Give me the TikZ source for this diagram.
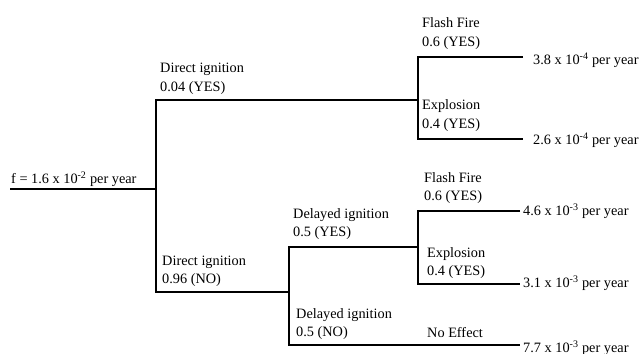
\documentclass[tikz,border=0pt]{standalone}
\usepackage{fontspec}
\setmainfont{LiberationSerif}[Extension=.ttf, UprightFont=*-Regular, BoldFont=*-Bold]
\begin{document}
\begin{tikzpicture}[x=1pt,y=-1pt,
  branch/.style={line width=1.4pt, line join=miter},
  lbl/.style={anchor=west, inner sep=0pt, align=left, font=\fontsize{14.3}{18.5}\selectfont},
  res/.style={anchor=west, inner sep=0pt, font=\fontsize{14.3}{18.5}\selectfont}]
\useasboundingbox (0,0) rectangle (639,353);
% junction coordinates
\coordinate (start) at (10,189);
\coordinate (A) at (156,189);
\coordinate (Atop) at (156,100);
\coordinate (Abot) at (156,292);
\coordinate (B) at (418,100);
\coordinate (Btop) at (418,57);
\coordinate (Bbot) at (418,139);
\coordinate (e1) at (523,57);
\coordinate (e2) at (523,139);
\coordinate (C) at (289,292);
\coordinate (Ctop) at (289,247);
\coordinate (Cbot) at (289,345);
\coordinate (D) at (418,247);
\coordinate (Dtop) at (418,211);
\coordinate (Dbot) at (418,284);
\coordinate (e3) at (520,211);
\coordinate (e4) at (520,284);
\coordinate (e5) at (520,345);
% branches
\draw[branch] (start) -- (A);
\draw[branch] (B) -- (Atop) -- (Abot) -- (C);
\draw[branch] (e1) -- (Btop) -- (Bbot) -- (e2);
\draw[branch] (D) -- (Ctop) -- (Cbot) -- (e5);
\draw[branch] (e3) -- (Dtop) -- (Dbot) -- (e4);
% labels
\node[lbl] (root) at (11,179) {f = 1.6 x 10\textsuperscript{-2} per year};
\node[lbl] (diy) at (160,79) {Direct ignition\\0.04 (YES)};
\node[lbl] (din) at (162,271.5) {Direct ignition\\0.96 (NO)};
\node[lbl] (ff1) at (422,33.5) {Flash Fire\\0.6 (YES)};
\node[lbl] (ex1) at (422,115.5) {Explosion\\0.4 (YES)};
\node[lbl] (dly) at (293,224) {Delayed ignition\\0.5 (YES)};
\node[lbl] (dln) at (296,324) {Delayed ignition\\0.5 (NO)};
\node[lbl] (ff2) at (424,188) {Flash Fire\\0.6 (YES)};
\node[lbl] (ex2) at (427,263) {Explosion\\0.4 (YES)};
\node[lbl] (noe) at (427,333) {No Effect};
% results
\node[res] (r1) at (533,60) {3.8 x 10\textsuperscript{-4} per year};
\node[res] (r2) at (533,140) {2.6 x 10\textsuperscript{-4} per year};
\node[res] (r3) at (523,211) {4.6 x 10\textsuperscript{-3} per year};
\node[res] (r4) at (523,283) {3.1 x 10\textsuperscript{-3} per year};
\node[res] (r5) at (523,348) {7.7 x 10\textsuperscript{-3} per year};
\end{tikzpicture}
\end{document}
